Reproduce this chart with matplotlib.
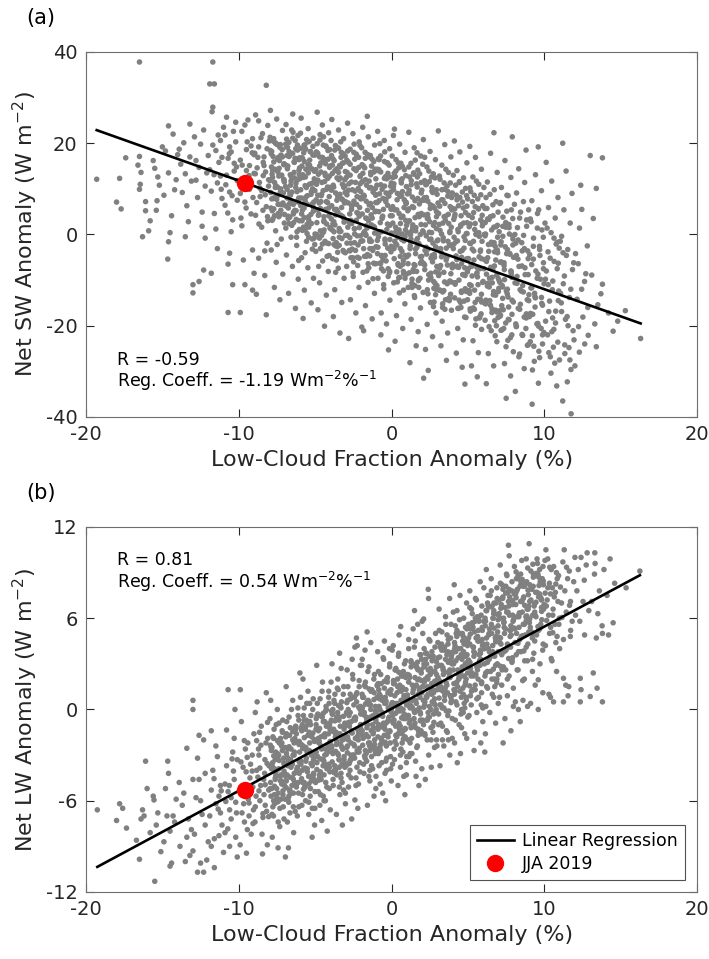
import matplotlib
matplotlib.use("Agg")
import matplotlib.pyplot as plt
import numpy as np

plt.rcParams['font.family'] = ['DejaVu Sans']
plt.rcParams['mathtext.fontset'] = 'dejavusans'
plt.rcParams['axes.unicode_minus'] = False

# (low-cloud fraction anomaly %, net SW anomaly W m-2)
sw_points = [
    (-19.3, 12.1), (-18.0, 7.1), (-17.7, 5.6), (-17.8, 12.3), (-17.4, 16.8),
    (-16.5, 37.8), (-16.5, 17.1), (-16.45, 11.0), (-16.5, 9.9), (-16.3, -0.5), (-16.1, 7.2), (-16.1, 5.2), (-16.6, 15.2), (-16.4, 13.6),
    (-15.5, 14.5), (-15.4, 5.3), (-15.35, 7.4), (-15.8, 3.0), (-15.2, 10.8), (-15.6, 16.2), (-15.0, 19.2), (-15.3, 12.6), (-15.9, 0.8),
    (-14.6, 23.8), (-14.3, 22.0), (-14.6, 13.5), (-14.0, 17.5), (-14.5, 0.4), (-14.6, -1.6), (-14.65, -5.4), (-14.2, 9.8), (-14.8, 18.3), (-14.4, 4.1), (-14.1, 12.0), (-14.9, 8.6),
    (-13.5, -0.5), (-13.0, -11.0), (-13.0, -12.8), (-13.8, 15.4), (-13.6, 20.1), (-13.2, 17.0), (-13.4, 6.3), (-13.1, 11.7), (-13.7, 9.2), (-13.3, 2.8), (-13.9, 18.7), (-13.5, 13.3), (-13.2, 24.2),
    (-12.6, -10.3), (-12.2, -0.8), (-12.3, -7.8), (-12.8, 16.2), (-12.5, 19.8), (-12.1, 13.5), (-12.7, 8.1), (-12.4, 4.9), (-12.9, 21.4), (-12.2, 10.6), (-12.6, 14.7), (-12.0, 17.3), (-12.4, 1.8), (-12.8, 11.9), (-12.3, 22.9),
    (-11.7, 37.8), (-11.9, 33.0), (-11.6, 33.0), (-11.7, 27.9), (-11.75, 26.9), (-11.8, -8.5), (-11.5, 18.4), (-11.2, 20.6), (-11.9, 14.2), (-11.4, 11.3), (-11.1, 7.9), (-11.6, 4.6), (-11.3, 15.8), (-11.8, 9.5), (-11.0, 23.5), (-11.5, 1.2), (-11.2, 12.8), (-11.7, 19.6), (-11.4, -3.1), (-11.1, 16.9),
    (-10.7, -17.1), (-10.6, -4.1), (-10.7, -6.5), (-10.4, -11.0), (-10.9, 21.8), (-10.5, 18.1), (-10.2, 24.6), (-10.8, 13.0), (-10.3, 15.6), (-10.6, 9.3), (-10.1, 11.8), (-10.9, 6.4), (-10.4, 3.2), (-10.7, 16.7), (-10.2, 20.3), (-10.5, 0.6), (-10.8, 25.7), (-10.1, 7.5), (-10.3, 13.9), (-10.6, 19.2),
    (-9.9, -17.1), (-9.6, -11.0), (-9.1, -12.2), (-9.0, -8.5), (-9.7, -5.6), (-9.1, -3.4), (-9.8, 22.6), (-9.4, 25.1), (-9.2, 19.4), (-9.9, 16.3), (-9.5, 14.0), (-9.3, 9.9), (-9.7, 12.2), (-9.0, 17.5), (-9.6, 7.1), (-9.2, 4.5), (-9.8, 1.9), (-9.4, 11.3), (-9.1, 21.0), (-9.5, 18.6), (-9.3, 15.1), (-9.9, 9.0), (-9.0, 13.4), (-9.6, 24.0),
    (-8.2, 32.7), (-8.2, -17.6), (-8.9, 26.2), (-8.45, 22.1), (-8.1, 23.9), (-8.7, 19.2), (-8.35, 17.0), (-8.8, 14.6), (-8.4, 12.9), (-8.05, 10.6), (-8.6, 8.3), (-8.2, 6.1), (-8.9, 4.2), (-8.5, 1.6), (-8.15, -1.9), (-8.7, -5.2), (-8.3, -9.0), (-8.85, -13.1), (-8.4, 15.8), (-8.0, 20.5), (-8.65, 11.4), (-8.25, 13.7), (-8.95, 17.8), (-8.5, 9.6), (-8.1, 3.0), (-8.7, 24.9), (-8.3, -3.6),
    (-7.93, 27.2), (-7.52, 25.3), (-7.14, 22.8), (-7.71, 21.0), (-7.28, 19.7), (-7.85, 18.2), (-7.41, 16.9), (-7.04, 15.5), (-7.63, 14.3), (-7.19, 13.0), (-7.96, 11.8), (-7.47, 10.4), (-7.08, 9.1), (-7.74, 7.9), (-7.33, 6.6), (-7.81, 5.2), (-7.38, 3.9), (-7.02, 2.5), (-7.59, 0.8), (-7.22, -1.0), (-7.88, -3.4), (-7.55, -6.1), (-7.12, -8.7), (-7.67, -11.6), (-7.31, -14.3), (-7.61, 20.1), (-7.24, 17.4), (-7.79, 12.5), (-7.43, 8.6), (-7.01, 4.4), (-7.49, -2.2),
    (-6.91, 24.1), (-6.47, 26.4), (-6.13, 21.7), (-6.72, 20.2), (-6.27, 18.8), (-6.84, 17.3), (-6.38, 15.9), (-6.02, 14.6), (-6.63, 13.1), (-6.18, 11.9), (-6.94, 10.5), (-6.52, 9.3), (-6.07, 8.0), (-6.69, 6.7), (-6.33, 5.3), (-6.77, 4.0), (-6.41, 2.6), (-6.04, 1.1), (-6.58, -0.6), (-6.21, -2.4), (-6.88, -4.5), (-6.49, -7.0), (-6.11, -9.8), (-6.74, -12.9), (-6.29, -16.2), (-6.81, 19.1), (-6.36, 12.4), (-6.03, 16.8), (-6.61, 7.4), (-6.24, 3.3), (-6.54, 22.9), (-6.08, -5.7),
    (-5.92, 25.5), (-5.46, 23.2), (-5.13, 21.1), (-5.68, 19.6), (-5.31, 18.1), (-5.83, 16.7), (-5.37, 15.2), (-5.04, 13.9), (-5.64, 12.6), (-5.22, 11.2), (-5.95, 9.8), (-5.51, 8.5), (-5.09, 7.1), (-5.73, 5.8), (-5.28, 4.4), (-5.86, 3.0), (-5.42, 1.6), (-5.01, 0.1), (-5.57, -1.5), (-5.19, -3.2), (-5.89, -5.1), (-5.48, -7.3), (-5.11, -9.6), (-5.71, -12.2), (-5.26, -15.0), (-5.79, -18.4), (-5.39, 20.4), (-5.02, 17.4), (-5.61, 14.3), (-5.17, 10.0), (-5.94, 6.3), (-5.53, 2.2), (-5.07, -0.8), (-5.66, -4.0),
    (-4.87, 26.8), (-4.53, 24.0), (-4.12, 22.3), (-4.69, 20.7), (-4.28, 19.2), (-4.83, 17.8), (-4.36, 16.4), (-4.03, 15.0), (-4.62, 13.7), (-4.17, 12.3), (-4.91, 11.0), (-4.48, 9.6), (-4.08, 8.3), (-4.74, 6.9), (-4.32, 5.5), (-4.79, 4.2), (-4.43, 2.8), (-4.01, 1.3), (-4.58, -0.2), (-4.23, -1.9), (-4.96, -3.7), (-4.51, -5.8), (-4.14, -8.1), (-4.71, -10.6), (-4.27, -13.3), (-4.82, -16.5), (-4.39, -20.1), (-4.05, 18.6), (-4.63, 15.7), (-4.19, 10.4), (-4.93, 7.6), (-4.46, 0.5), (-4.09, -4.6), (-4.68, 21.9), (-4.34, 12.9), (-4.77, -7.0),
    (-3.91, 25.2), (-3.47, 22.9), (-3.14, 21.0), (-3.68, 19.5), (-3.29, 18.0), (-3.84, 16.6), (-3.41, 15.1), (-3.03, 13.8), (-3.57, 12.4), (-3.22, 11.0), (-3.93, 9.7), (-3.52, 8.3), (-3.08, 6.9), (-3.73, 5.5), (-3.31, 4.2), (-3.78, 2.8), (-3.43, 1.3), (-3.02, -0.2), (-3.62, -1.8), (-3.17, -3.5), (-3.86, -5.3), (-3.49, -7.4), (-3.11, -9.6), (-3.72, -12.1), (-3.26, -14.9), (-3.81, -18.0), (-3.38, -21.6), (-3.04, 17.2), (-3.59, 14.4), (-3.21, 7.6), (-3.94, 3.4), (-3.54, -2.6), (-3.13, 10.3), (-3.66, -8.3), (-3.33, 20.3), (-3.77, 0.6),
    (-2.88, 24.4), (-2.53, 22.1), (-2.12, 20.3), (-2.71, 18.7), (-2.27, 17.2), (-2.82, 15.8), (-2.39, 14.3), (-2.04, 12.9), (-2.63, 11.5), (-2.18, 10.1), (-2.92, 8.7), (-2.47, 7.3), (-2.09, 5.9), (-2.74, 4.5), (-2.31, 3.1), (-2.86, 1.6), (-2.42, 0.1), (-2.01, -1.5), (-2.58, -3.2), (-2.23, -5.0), (-2.94, -7.0), (-2.51, -9.2), (-2.13, -11.6), (-2.69, -14.3), (-2.34, -17.2), (-1.95, -20.3), (-2.81, -22.8), (-2.41, 16.5), (-2.02, 9.4), (-2.61, 2.4), (-2.19, -2.3), (-2.91, 13.6), (-2.48, -6.0), (-2.07, 19.5), (-2.73, -0.7), (-2.29, 6.6),
    (-1.89, 23.5), (-1.52, 21.4), (-1.11, 19.6), (-1.73, 18.0), (-1.28, 16.5), (-1.84, 15.0), (-1.37, 13.6), (-1.03, 12.2), (-1.64, 10.8), (-1.21, 9.3), (-1.92, 7.9), (-1.47, 6.5), (-1.08, 5.0), (-1.69, 3.6), (-1.32, 2.1), (-1.78, 0.6), (-1.43, -1.0), (-1.02, -2.7), (-1.58, -4.4), (-1.17, -6.3), (-1.87, -8.3), (-1.54, -10.5), (-1.12, -12.9), (-1.71, -15.6), (-1.27, -18.5), (-1.83, -21.1), (-1.39, 17.3), (-1.04, 8.6), (-1.61, 1.4), (-1.23, -3.5), (-1.94, 11.5), (-1.49, -7.3), (-1.09, 14.3), (-1.67, -0.2), (-1.34, 4.3), (-1.59, 25.9),
    (-0.91, 22.6), (-0.48, 20.6), (-0.13, 18.8), (-0.72, 17.2), (-0.27, 15.7), (-0.83, 14.2), (-0.39, 12.7), (-0.02, 11.3), (-0.62, 9.9), (-0.18, 8.4), (-0.94, 7.0), (-0.53, 5.5), (-0.08, 4.1), (-0.74, 2.6), (-0.31, 1.1), (-0.86, -0.5), (-0.42, -2.1), (-0.04, -3.8), (-0.57, -5.6), (-0.22, -7.5), (-0.89, -9.6), (-0.51, -11.9), (-0.11, -14.4), (-0.68, -17.2), (-0.2, -25.3), (-0.7, -22.0), (-0.33, -19.6), (-0.81, 16.4), (-0.37, 7.7), (-0.01, 0.3), (-0.64, -4.6), (-0.24, 13.4), (-0.93, -1.3), (-0.46, 10.6), (-0.14, -8.4), (-0.77, 19.9),
    (0.12, 21.7), (0.53, 19.8), (0.88, 18.0), (0.29, 16.4), (0.71, 14.9), (0.17, 13.4), (0.62, 11.9), (0.97, 10.5), (0.38, 9.0), (0.83, 7.6), (0.07, 6.1), (0.49, 4.6), (0.92, 3.1), (0.26, 1.6), (0.68, 0.1), (0.21, -1.5), (0.58, -3.1), (0.99, -4.9), (0.43, -6.7), (0.79, -8.6), (0.14, -10.6), (0.51, -12.8), (0.87, -15.2), (0.32, -17.8), (0.73, -20.6), (0.23, -23.4), (0.61, 15.6), (0.96, 6.8), (0.41, -0.6), (0.77, -5.7), (0.09, 12.5), (0.47, -9.5), (0.91, 1.0), (0.34, -2.3), (0.66, 8.4), (0.19, 23.1),
    (1.13, 22.4), (1.48, 19.0), (1.91, 17.2), (1.27, 15.6), (1.72, 14.1), (1.18, 12.6), (1.63, 11.1), (1.98, 9.7), (1.36, 8.2), (1.82, 6.7), (1.06, 5.2), (1.54, 3.7), (1.93, 2.2), (1.31, 0.7), (1.69, -0.9), (1.22, -2.5), (1.57, -4.2), (1.97, -5.9), (1.42, -7.7), (1.86, -9.6), (1.09, -11.6), (1.51, -13.8), (1.89, -16.1), (1.28, -18.6), (1.74, -21.3), (1.2, -28.1), (1.61, -24.4), (1.44, 13.5), (1.79, -2.0), (1.14, 9.0), (1.53, -6.8), (1.94, 4.6), (1.33, -10.7), (1.67, 17.9), (1.24, -0.1), (1.59, 1.5),
    (2.1, -31.5), (2.4, -29.8), (2.08, 20.8), (2.52, 18.2), (2.87, 16.4), (2.31, 14.8), (2.73, 13.3), (2.16, 11.8), (2.64, 10.3), (2.98, 8.8), (2.37, 7.3), (2.82, 5.8), (2.11, 4.3), (2.49, 2.8), (2.93, 1.3), (2.27, -0.3), (2.71, -1.9), (2.19, -3.5), (2.58, -5.2), (2.96, -7.0), (2.43, -8.8), (2.84, -10.7), (2.06, -12.7), (2.54, -14.9), (2.91, -17.2), (2.33, -19.7), (2.68, -22.4), (2.22, -25.2), (2.61, 12.6), (2.79, -4.4), (2.39, 3.6), (2.89, -12.0), (2.28, 8.1), (2.74, -15.8), (2.47, 0.5), (2.17, 16.9),
    (3.06, 22.7), (3.48, 19.7), (3.88, 17.0), (3.29, 15.2), (3.72, 13.6), (3.17, 12.1), (3.63, 10.6), (3.97, 9.1), (3.36, 7.6), (3.83, 6.1), (3.08, 4.6), (3.52, 3.1), (3.91, 1.6), (3.27, 0.1), (3.69, -1.5), (3.21, -3.1), (3.57, -4.8), (3.99, -6.5), (3.42, -8.3), (3.81, -10.2), (3.12, -12.2), (3.53, -14.3), (3.92, -16.6), (3.31, -19.0), (3.67, -21.6), (3.23, -24.4), (3.59, -27.6), (3.44, 11.3), (3.78, -2.4), (3.14, -7.4), (3.49, 6.8), (3.86, -13.1), (3.34, -16.0),
    (4.11, 20.5), (4.47, 18.1), (4.93, 15.7), (4.28, 14.0), (4.71, 12.4), (4.19, 10.8), (4.63, 9.3), (4.98, 7.8), (4.38, 6.3), (4.84, 4.8), (4.07, 3.3), (4.52, 1.8), (4.89, 0.2), (4.31, -1.4), (4.74, -3.0), (4.22, -4.7), (4.58, -6.4), (4.96, -8.2), (4.41, -10.0), (4.82, -11.9), (4.13, -13.9), (4.54, -16.0), (4.87, -18.2), (4.33, -20.6), (4.69, -23.1), (4.8, -32.8), (4.24, -26.0), (4.62, -29.1), (4.44, 11.4), (4.79, -7.3), (4.09, -0.6), (4.51, -14.9), (4.91, 8.5), (4.27, -5.5),
    (5.12, 19.3), (5.49, 16.9), (5.88, 14.3), (5.32, 12.6), (5.71, 11.0), (5.18, 9.4), (5.64, 7.8), (5.97, 6.3), (5.37, 4.8), (5.83, 3.2), (5.08, 1.7), (5.53, 0.1), (5.92, -1.5), (5.28, -3.2), (5.73, -4.9), (5.21, -6.6), (5.59, -8.4), (5.99, -10.3), (5.43, -12.2), (5.81, -14.2), (5.14, -16.3), (5.52, -18.5), (5.89, -20.8), (5.33, -23.3), (5.68, -25.9), (5.23, -28.8), (5.61, -31.2), (5.41, 8.6), (5.78, -7.5), (5.11, -11.0), (5.47, 2.4), (5.86, -17.4),
    (6.7, 22.3), (6.2, -32.7), (6.48, 17.8), (6.91, 13.6), (6.27, 11.5), (6.72, 9.8), (6.18, 8.1), (6.63, 6.5), (6.97, 4.9), (6.38, 3.3), (6.84, 1.7), (6.07, 0.0), (6.53, -1.7), (6.92, -3.4), (6.29, -5.1), (6.73, -6.9), (6.21, -8.7), (6.59, -10.6), (6.99, -12.5), (6.43, -14.5), (6.81, -16.6), (6.12, -18.8), (6.52, -21.1), (6.89, -23.5), (6.33, -26.1), (6.68, -28.8), (6.41, -9.6), (6.78, -2.6), (6.11, 5.7), (6.47, -15.5), (6.86, -20.0),
    (7.9, 21.4), (7.5, -35.9), (7.42, 16.2), (7.81, 12.5), (7.19, 10.3), (7.63, 8.5), (7.08, 6.8), (7.54, 5.1), (7.93, 3.5), (7.28, 1.8), (7.71, 0.1), (7.17, -1.6), (7.58, -3.3), (7.98, -5.0), (7.36, -6.8), (7.83, -8.6), (7.09, -10.5), (7.51, -12.4), (7.88, -14.4), (7.31, -16.5), (7.69, -18.7), (7.22, -20.9), (7.61, -23.2), (7.97, -25.7), (7.39, -28.3), (7.79, -31.0), (7.27, -11.5), (7.73, -4.2), (7.13, -17.7), (7.47, 2.6), (7.87, -22.0),
    (8.8, 18.5), (8.1, -34.4), (8.32, 14.4), (8.71, 11.4), (8.18, 9.1), (8.63, 7.2), (8.97, 5.4), (8.38, 3.6), (8.84, 1.8), (8.07, 0.0), (8.52, -1.8), (8.91, -3.6), (8.27, -5.4), (8.73, -7.3), (8.21, -9.2), (8.58, -11.2), (8.99, -13.2), (8.43, -15.3), (8.82, -17.4), (8.13, -19.6), (8.54, -21.9), (8.89, -24.3), (8.33, -26.8), (8.68, -29.4), (8.41, -12.1), (8.79, -20.6), (8.17, -4.6),
    (9.6, 19.2), (9.2, -37.2), (9.42, 13.1), (9.81, 9.6), (9.18, 7.4), (9.63, 5.4), (9.08, 3.4), (9.54, 1.4), (9.93, -0.6), (9.28, -2.6), (9.71, -4.6), (9.17, -6.6), (9.58, -8.7), (9.98, -10.8), (9.36, -12.9), (9.83, -15.1), (9.09, -17.3), (9.51, -19.6), (9.88, -22.0), (9.31, -24.5), (9.69, -27.0), (9.22, -29.7), (9.61, -32.6), (9.41, -13.9), (9.79, -20.6),
    (10.12, 15.8), (10.48, 11.7), (10.89, 8.1), (10.27, 5.9), (10.71, 3.6), (10.18, 1.4), (10.63, -0.8), (10.97, -3.0), (10.38, -5.2), (10.84, -7.5), (10.07, -9.8), (10.52, -12.1), (10.91, -14.5), (10.29, -16.9), (10.73, -19.4), (10.21, -22.0), (10.59, -24.7), (10.99, -27.5), (10.43, -30.4), (10.81, -33.2), (10.54, -18.3),
    (11.2, 20.0), (11.2, -36.5), (11.75, -39.3), (11.5, -32.3), (11.42, 13.9), (11.81, 9.0), (11.28, 5.4), (11.69, 2.5), (11.13, -0.4), (11.53, -3.3), (11.92, -6.2), (11.31, -9.1), (11.73, -12.0), (11.11, -15.0), (11.49, -18.0), (11.88, -21.1), (11.33, -24.2), (11.67, -27.5),
    (12.45, 5.5), (12.3, 1.4), (12.0, -28.8), (12.38, 10.8), (12.81, -2.5), (12.22, -6.4), (12.63, -10.3), (12.14, -14.2), (12.52, -18.1), (12.87, -22.1), (12.29, -25.8), (12.71, -8.6),
    (13.0, 17.3), (13.8, 16.8), (13.4, 10.1), (13.2, 3.5), (13.8, -10.9), (13.1, -8.9), (13.4, -24.6), (13.5, -15.4), (13.3, -19.6), (13.7, -13.0),
    (14.5, -21.2), (14.2, -17.2), (15.3, -16.7), (16.3, -22.8), (14.8, -19.0),
]

# more points from the dense core of panel (a)
sw_core = [
    (-7.95, 21.3), (-7.57, 19.9), (-7.16, 18.6), (-7.76, 17.1), (-7.34, 16.2), (-7.86, 14.8), (-7.44, 13.7), (-7.06, 12.1), (-7.66, 11.4), (-7.26, 10.0), (-7.91, 9.2), (-7.52, 7.7), (-7.11, 6.5), (-7.71, 5.6), (-7.31, 4.3), (-7.82, 3.1),
    (-6.45, 22.4), (-6.87, 20.9), (-6.16, 19.6), (-6.71, 18.2), (-6.32, 16.7), (-6.96, 15.3), (-6.06, 14.1), (-6.56, 12.6), (-6.26, 11.2), (-6.83, 9.9), (-6.62, 8.6), (-6.12, 7.1), (-6.76, 5.8), (-6.43, 4.5), (-6.03, 3.0), (-6.92, 1.4), (-6.22, -0.6), (-6.6, 17.6),
    (-5.96, 22.2), (-5.56, 20.8), (-5.15, 19.3), (-5.75, 17.9), (-5.36, 16.3), (-5.87, 15.0), (-5.45, 13.5), (-5.06, 12.2), (-5.66, 10.7), (-5.25, 9.4), (-5.91, 8.0), (-5.52, 6.6), (-5.12, 5.1), (-5.72, 3.7), (-5.33, 2.4), (-5.84, 0.9), (-5.43, -0.6), (-5.03, -2.2), (-5.62, 18.7), (-5.22, 14.4),
    (-4.45, 21.4), (-4.87, 19.9), (-4.16, 18.4), (-4.71, 17.0), (-4.32, 15.5), (-4.96, 14.2), (-4.06, 12.8), (-4.56, 11.4), (-4.26, 9.9), (-4.83, 8.6), (-4.62, 7.2), (-4.12, 5.8), (-4.76, 4.4), (-4.43, 3.0), (-4.03, 1.5), (-4.92, 0.0), (-4.36, -1.5), (-4.66, -3.1), (-4.22, -4.8), (-4.52, 16.9),
    (-3.96, 20.6), (-3.56, 19.1), (-3.16, 17.7), (-3.76, 16.2), (-3.36, 14.8), (-3.87, 13.4), (-3.45, 12.0), (-3.06, 10.6), (-3.66, 9.1), (-3.26, 7.8), (-3.92, 6.3), (-3.51, 4.9), (-3.12, 3.5), (-3.71, 2.1), (-3.32, 0.7), (-3.83, -0.9), (-3.43, -2.4), (-3.03, -4.0), (-3.62, -5.6), (-3.22, 15.6),
    (-2.45, 19.8), (-2.87, 18.3), (-2.16, 16.9), (-2.71, 15.4), (-2.32, 14.0), (-2.96, 12.5), (-2.06, 11.1), (-2.56, 9.8), (-2.26, 8.3), (-2.83, 6.9), (-2.62, 5.5), (-2.12, 4.0), (-2.76, 2.6), (-2.43, 1.2), (-2.03, -0.3), (-2.92, -1.9), (-2.36, -3.5), (-2.66, -5.1), (-2.22, -6.8), (-2.52, -8.4),
    (-1.96, 19.0), (-1.56, 17.5), (-1.16, 16.0), (-1.76, 14.6), (-1.36, 13.1), (-1.87, 11.7), (-1.45, 10.2), (-1.06, 8.8), (-1.66, 7.3), (-1.26, 5.9), (-1.92, 4.5), (-1.51, 3.0), (-1.12, 1.6), (-1.71, 0.1), (-1.32, -1.5), (-1.83, -3.1), (-1.43, -4.7), (-1.03, -6.4), (-1.62, -8.0), (-1.22, -9.7),
    (-0.45, 18.1), (-0.87, 16.6), (-0.16, 15.2), (-0.71, 13.7), (-0.32, 12.2), (-0.96, 10.8), (-0.06, 9.3), (-0.56, 7.9), (-0.26, 6.4), (-0.83, 5.0), (-0.62, 3.5), (-0.12, 2.0), (-0.76, 0.6), (-0.43, -1.0), (-0.03, -2.6), (-0.92, -4.2), (-0.36, -5.8), (-0.66, -7.5), (-0.22, -9.2), (-0.52, -11.0),
    (0.04, 17.2), (0.44, 15.7), (0.84, 14.2), (0.24, 12.7), (0.64, 11.3), (0.13, 9.8), (0.55, 8.4), (0.94, 6.9), (0.34, 5.4), (0.74, 4.0), (0.08, 2.5), (0.49, 1.0), (0.88, -0.5), (0.29, -2.1), (0.68, -3.7), (0.17, -5.3), (0.57, -7.0), (0.97, -8.7), (0.38, -10.4), (0.78, -12.2),
    (1.55, 16.3), (1.13, 14.8), (1.84, 13.3), (1.29, 11.8), (1.68, 10.4), (1.04, 8.9), (1.94, 7.4), (1.44, 5.9), (1.74, 4.4), (1.17, 3.0), (1.38, 1.5), (1.88, 0.0), (1.24, -1.6), (1.57, -3.2), (1.97, -4.8), (1.08, -6.4), (1.64, -8.1), (1.34, -9.8), (1.78, -11.6), (1.49, -13.4),
    (2.04, 15.4), (2.44, 13.9), (2.84, 12.4), (2.24, 10.9), (2.64, 9.5), (2.13, 8.0), (2.55, 6.5), (2.94, 5.0), (2.34, 3.5), (2.74, 2.0), (2.08, 0.5), (2.49, -1.1), (2.88, -2.7), (2.29, -4.3), (2.68, -6.0), (2.17, -7.7), (2.57, -9.4), (2.97, -11.2), (2.38, -13.0), (2.78, -14.8),
    (3.55, 14.3), (3.13, 12.8), (3.84, 11.3), (3.29, 9.8), (3.68, 8.4), (3.04, 6.9), (3.94, 5.4), (3.44, 3.9), (3.74, 2.4), (3.17, 0.9), (3.38, -0.7), (3.88, -2.3), (3.24, -3.9), (3.57, -5.6), (3.97, -7.3), (3.08, -9.0), (3.64, -10.8), (3.34, -12.6), (3.78, -14.5), (3.49, -16.4),
    (4.04, 13.0), (4.44, 11.6), (4.84, 10.1), (4.24, 8.6), (4.64, 7.1), (4.13, 5.6), (4.55, 4.1), (4.94, 2.6), (4.34, 1.1), (4.74, -0.5), (4.08, -2.1), (4.49, -3.7), (4.88, -5.4), (4.29, -7.1), (4.68, -8.8), (4.17, -10.6), (4.57, -12.4), (4.97, -14.3), (4.38, -16.2), (4.78, -18.1),
    (5.55, 11.7), (5.13, 10.2), (5.84, 8.7), (5.29, 7.2), (5.68, 5.7), (5.04, 4.2), (5.94, 2.7), (5.44, 1.1), (5.74, -0.4), (5.17, -2.0), (5.38, -3.6), (5.88, -5.3), (5.24, -7.0), (5.57, -8.7), (5.97, -10.5), (5.08, -12.3), (5.64, -14.2), (5.34, -16.1), (5.78, -18.0), (5.49, -19.9),
    (6.04, 10.3), (6.44, 8.8), (6.84, 7.2), (6.24, 5.7), (6.64, 4.1), (6.13, 2.6), (6.55, 1.0), (6.94, -0.6), (6.34, -2.2), (6.74, -3.8), (6.08, -5.5), (6.49, -7.2), (6.88, -8.9), (6.29, -10.7), (6.68, -12.5), (6.17, -14.4), (6.57, -16.3), (6.97, -18.2), (6.38, -20.2), (6.78, -22.2),
    (7.55, 8.6), (7.13, 7.0), (7.84, 5.4), (7.29, 3.8), (7.68, 2.2), (7.04, 0.6), (7.94, -1.0), (7.44, -2.7), (7.74, -4.3), (7.17, -6.0), (7.38, -7.7), (7.88, -9.4), (7.24, -11.2), (7.57, -13.0), (7.97, -14.8), (7.08, -16.7), (7.64, -18.6), (7.34, -20.6), (7.78, -22.6), (7.49, -24.6),
    (8.04, 6.6), (8.44, 4.9), (8.84, 3.2), (8.24, 1.5), (8.64, -0.2), (8.13, -1.9), (8.55, -3.6), (8.94, -5.3), (8.34, -7.0), (8.74, -8.8), (8.08, -10.6), (8.49, -12.4), (8.88, -14.3), (8.29, -16.2), (8.68, -18.1), (8.17, -20.1), (8.57, -22.1), (8.97, -24.1), (8.38, -26.2),
    (9.55, 4.6), (9.13, 2.8), (9.84, 1.0), (9.29, -0.8), (9.68, -2.6), (9.04, -4.4), (9.94, -6.2), (9.44, -8.0), (9.74, -9.8), (9.17, -11.7), (9.38, -13.6), (9.88, -15.5), (9.24, -17.5), (9.57, -19.5), (9.97, -21.5), (9.08, -23.5), (9.64, -25.6), (9.34, -27.8),
    (10.04, 2.5), (10.44, 0.4), (10.84, -1.7), (10.24, -3.8), (10.64, -5.9), (10.13, -8.0), (10.55, -10.2), (10.94, -12.4), (10.34, -14.6), (10.74, -16.8), (10.08, -19.0), (10.49, -21.3), (10.88, -23.6), (10.29, -25.9), (10.68, -28.2),
    (11.04, -1.5), (11.44, -4.6), (11.84, -7.7), (11.24, -10.8), (11.64, -13.8), (11.13, -16.9), (11.55, -20.0), (11.94, -23.1), (11.34, -26.1), (11.74, -29.6),
    (12.04, -4.2), (12.44, -12.0), (12.84, -16.0), (12.24, -20.2), (12.64, -24.0),
]

# the most crowded part of panel (a)
sw_dense = [
    (-7.72, 20.4), (-7.31, 19.1), (-7.88, 17.7), (-7.47, 16.5), (-7.06, 15.3), (-7.79, 14.0), (-7.38, 12.8), (-7.02, 11.5), (-7.61, 10.3), (-7.19, 9.0), (-7.84, 7.8), (-7.43, 6.6), (-7.25, 5.3), (-7.66, 4.1),
    (-6.31, 20.6), (-6.88, 19.2), (-6.47, 17.8), (-6.06, 16.4), (-6.79, 15.0), (-6.38, 13.6), (-6.02, 12.2), (-6.61, 10.8), (-6.19, 9.4), (-6.84, 8.0), (-6.43, 6.6), (-6.25, 5.2), (-6.66, 3.8), (-6.72, 2.4),
    (-5.72, 19.6), (-5.31, 18.2), (-5.88, 16.8), (-5.47, 15.3), (-5.06, 13.9), (-5.79, 12.5), (-5.38, 11.0), (-5.02, 9.6), (-5.61, 8.2), (-5.19, 6.7), (-5.84, 5.3), (-5.43, 3.9), (-5.25, 2.4), (-5.66, 1.0),
    (-4.31, 19.4), (-4.88, 17.8), (-4.47, 16.3), (-4.06, 14.7), (-4.79, 13.2), (-4.38, 11.6), (-4.02, 10.1), (-4.61, 8.5), (-4.19, 7.0), (-4.84, 5.4), (-4.43, 3.9), (-4.25, 2.3), (-4.66, 0.8), (-4.72, -0.8), (-4.12, -2.0),
    (-3.72, 18.5), (-3.31, 16.9), (-3.88, 15.2), (-3.47, 13.6), (-3.06, 12.0), (-3.79, 10.4), (-3.38, 8.8), (-3.02, 7.2), (-3.61, 5.5), (-3.19, 3.9), (-3.84, 2.3), (-3.43, 0.7), (-3.25, -0.9), (-3.66, -2.5), (-3.12, -3.8),
    (-2.31, 17.6), (-2.88, 16.0), (-2.47, 14.4), (-2.06, 12.7), (-2.79, 11.1), (-2.38, 9.5), (-2.02, 7.8), (-2.61, 6.2), (-2.19, 4.6), (-2.84, 3.0), (-2.43, 1.3), (-2.25, -0.3), (-2.66, -1.9), (-2.72, -3.6), (-2.12, -5.2),
    (-1.72, 16.7), (-1.31, 15.0), (-1.88, 13.4), (-1.47, 11.7), (-1.06, 10.1), (-1.79, 8.4), (-1.38, 6.8), (-1.02, 5.1), (-1.61, 3.5), (-1.19, 1.8), (-1.84, 0.2), (-1.43, -1.5), (-1.25, -3.1), (-1.66, -4.8), (-1.12, -6.4),
    (-0.31, 15.7), (-0.88, 14.0), (-0.47, 12.3), (-0.06, 10.6), (-0.79, 8.9), (-0.38, 7.2), (-0.02, 5.5), (-0.61, 3.8), (-0.19, 2.1), (-0.84, 0.4), (-0.43, -1.3), (-0.25, -3.0), (-0.66, -4.7), (-0.72, -6.4), (-0.12, -8.1),
    (0.28, 13.9), (0.69, 12.2), (0.12, 10.5), (0.53, 8.8), (0.94, 7.1), (0.21, 5.4), (0.62, 3.7), (0.98, 2.0), (0.39, 0.3), (0.81, -1.4), (0.16, -3.1), (0.57, -4.8), (0.75, -6.5), (0.34, -8.2), (0.88, -9.6),
    (1.69, 12.6), (1.28, 10.9), (1.94, 9.1), (1.53, 7.4), (1.12, 5.6), (1.81, 3.9), (1.39, 2.1), (1.02, 0.4), (1.62, -1.4), (1.21, -3.1), (1.88, -4.9), (1.47, -6.6), (1.16, -8.4), (1.75, -10.1), (1.34, -11.6),
    (2.28, 11.0), (2.69, 9.2), (2.12, 7.5), (2.53, 5.7), (2.94, 3.9), (2.21, 2.1), (2.62, 0.4), (2.98, -1.4), (2.39, -3.2), (2.81, -5.0), (2.16, -6.7), (2.57, -8.5), (2.75, -10.3), (2.34, -12.1), (2.88, -13.2),
    (3.69, 9.4), (3.28, 7.6), (3.94, 5.8), (3.53, 4.0), (3.12, 2.2), (3.81, 0.4), (3.39, -1.4), (3.02, -3.2), (3.62, -5.0), (3.21, -6.8), (3.88, -8.6), (3.47, -10.4), (3.16, -12.2), (3.75, -14.0), (3.34, -15.2),
    (4.28, 7.6), (4.69, 5.8), (4.12, 3.9), (4.53, 2.1), (4.94, 0.2), (4.21, -1.6), (4.62, -3.5), (4.98, -5.3), (4.39, -7.2), (4.81, -9.0), (4.16, -10.9), (4.57, -12.7), (4.75, -14.6), (4.34, -16.2),
    (5.69, 5.6), (5.28, 3.7), (5.94, 1.9), (5.53, 0.0), (5.12, -1.9), (5.81, -3.7), (5.39, -5.6), (5.02, -7.5), (5.62, -9.3), (5.21, -11.2), (5.88, -13.1), (5.47, -14.9), (5.16, -16.8), (5.75, -18.3),
    (6.28, 3.4), (6.69, 1.6), (6.12, -0.3), (6.53, -2.1), (6.94, -4.0), (6.21, -5.9), (6.62, -7.7), (6.98, -9.6), (6.39, -11.5), (6.81, -13.3), (6.16, -15.2), (6.57, -17.1), (6.75, -18.9),
    (7.69, 1.5), (7.28, -0.4), (7.94, -2.3), (7.53, -4.2), (7.12, -6.1), (7.81, -8.0), (7.39, -9.9), (7.02, -11.8), (7.62, -13.7), (7.21, -15.6), (7.88, -17.5), (7.47, -19.4), (7.16, -21.0),
    (8.28, -1.2), (8.69, -3.1), (8.12, -5.0), (8.53, -6.9), (8.94, -8.8), (8.21, -10.7), (8.62, -12.6), (8.98, -14.5), (8.39, -16.4), (8.81, -18.3), (8.16, -20.2), (8.57, -22.1),
    (9.69, -3.3), (9.28, -5.4), (9.94, -7.5), (9.53, -9.6), (9.12, -11.7), (9.81, -13.8), (9.39, -15.9), (9.02, -18.0), (9.62, -20.1), (9.21, -22.2), (9.88, -24.0),
]

# second pass over the most crowded part of panel (a)
sw_dense2 = [
    (-7.47, 19.7), (-7.93, 18.4), (-7.15, 17.0), (-7.71, 15.9), (-7.36, 14.5), (-7.82, 13.2), (-7.04, 11.9), (-7.58, 10.7), (-7.27, 9.5), (-7.66, 8.1), (-7.11, 6.9), (-7.89, 5.8), (-7.42, 4.6), (-7.77, 3.4),
    (-6.47, 21.1), (-6.93, 19.8), (-6.15, 18.5), (-6.71, 17.1), (-6.36, 15.8), (-6.82, 14.4), (-6.04, 13.1), (-6.58, 11.7), (-6.27, 10.3), (-6.66, 9.0), (-6.11, 7.6), (-6.89, 6.2), (-6.42, 4.9), (-6.77, 3.5), (-6.53, 2.0), (-6.19, 0.6),
    (-5.47, 20.3), (-5.93, 18.9), (-5.15, 17.4), (-5.71, 16.0), (-5.36, 14.6), (-5.82, 13.1), (-5.04, 11.7), (-5.58, 10.3), (-5.27, 8.8), (-5.66, 7.4), (-5.11, 5.9), (-5.89, 4.5), (-5.42, 3.1), (-5.77, 1.6), (-5.53, 0.2), (-5.19, -1.0),
    (-4.47, 19.6), (-4.93, 18.1), (-4.15, 16.5), (-4.71, 15.0), (-4.36, 13.4), (-4.82, 11.9), (-4.04, 10.3), (-4.58, 8.8), (-4.27, 7.2), (-4.66, 5.7), (-4.11, 4.1), (-4.89, 2.6), (-4.42, 1.0), (-4.77, -0.5), (-4.53, -2.1),
    (-3.47, 18.9), (-3.93, 17.3), (-3.15, 15.7), (-3.71, 14.0), (-3.36, 12.4), (-3.82, 10.8), (-3.04, 9.2), (-3.58, 7.5), (-3.27, 5.9), (-3.66, 4.3), (-3.11, 2.7), (-3.89, 1.0), (-3.42, -0.6), (-3.77, -2.2), (-3.53, -3.9),
    (-2.47, 18.0), (-2.93, 16.3), (-2.15, 14.7), (-2.71, 13.0), (-2.36, 11.4), (-2.82, 9.7), (-2.04, 8.1), (-2.58, 6.4), (-2.27, 4.8), (-2.66, 3.1), (-2.11, 1.5), (-2.89, -0.2), (-2.42, -1.8), (-2.77, -3.5), (-2.53, -5.1),
    (-1.47, 17.0), (-1.93, 15.3), (-1.15, 13.7), (-1.71, 12.0), (-1.36, 10.3), (-1.82, 8.6), (-1.04, 7.0), (-1.58, 5.3), (-1.27, 3.6), (-1.66, 1.9), (-1.11, 0.3), (-1.89, -1.4), (-1.42, -3.1), (-1.77, -4.8), (-1.53, -6.4),
    (-0.47, 16.0), (-0.93, 14.3), (-0.15, 12.6), (-0.71, 10.9), (-0.36, 9.1), (-0.82, 7.4), (-0.04, 5.7), (-0.58, 4.0), (-0.27, 2.3), (-0.66, 0.6), (-0.11, -1.1), (-0.89, -2.8), (-0.42, -4.6), (-0.77, -6.3), (-0.53, -8.0),
    (0.47, 14.6), (0.93, 12.9), (0.15, 11.1), (0.71, 9.4), (0.36, 7.6), (0.82, 5.9), (0.04, 4.1), (0.58, 2.4), (0.27, 0.6), (0.66, -1.1), (0.11, -2.9), (0.89, -4.6), (0.42, -6.4), (0.77, -8.1), (0.53, -9.4),
    (1.47, 13.2), (1.93, 11.4), (1.15, 9.7), (1.71, 7.9), (1.36, 6.1), (1.82, 4.3), (1.04, 2.6), (1.58, 0.8), (1.27, -1.0), (1.66, -2.8), (1.11, -4.5), (1.89, -6.3), (1.42, -8.1), (1.77, -9.9), (1.53, -11.2),
    (2.47, 11.6), (2.93, 9.8), (2.15, 8.0), (2.71, 6.2), (2.36, 4.4), (2.82, 2.6), (2.04, 0.8), (2.58, -1.0), (2.27, -2.8), (2.66, -4.6), (2.11, -6.4), (2.89, -8.2), (2.42, -10.0), (2.77, -11.8),
    (3.47, 9.9), (3.93, 8.1), (3.15, 6.2), (3.71, 4.4), (3.36, 2.5), (3.82, 0.7), (3.04, -1.2), (3.58, -3.0), (3.27, -4.9), (3.66, -6.7), (3.11, -8.6), (3.89, -10.4), (3.42, -12.3), (3.77, -14.0),
    (4.47, 8.1), (4.93, 6.2), (4.15, 4.4), (4.71, 2.5), (4.36, 0.6), (4.82, -1.3), (4.04, -3.1), (4.58, -5.0), (4.27, -6.9), (4.66, -8.8), (4.11, -10.6), (4.89, -12.5), (4.42, -14.4),
    (5.47, 6.1), (5.93, 4.2), (5.15, 2.3), (5.71, 0.4), (5.36, -1.5), (5.82, -3.4), (5.04, -5.3), (5.58, -7.2), (5.27, -9.1), (5.66, -11.0), (5.11, -12.9), (5.89, -14.8), (5.42, -16.4),
    (6.47, 3.9), (6.93, 2.0), (6.15, 0.1), (6.71, -1.8), (6.36, -3.7), (6.82, -5.6), (6.04, -7.5), (6.58, -9.4), (6.27, -11.3), (6.66, -13.2), (6.11, -15.1), (6.89, -17.0),
    (7.47, 1.6), (7.93, -0.3), (7.15, -2.3), (7.71, -4.2), (7.36, -6.2), (7.82, -8.1), (7.04, -10.1), (7.58, -12.0), (7.27, -14.0), (7.66, -15.9), (7.11, -17.9),
]

# fringe of the cloud in panel (a): left shoulder and lower right
sw_edge = [
    (-8.55, 21.2), (-8.15, 18.8), (-8.75, 16.9), (-8.35, 15.1), (-8.92, 13.3), (-8.05, 12.0), (-8.62, 10.2), (-8.27, 8.7), (-8.83, 7.0), (-8.42, 5.3), (-8.12, 3.9), (-8.68, 2.3),
    (-9.45, 20.3), (-9.12, 17.9), (-9.78, 15.2), (-9.33, 12.9), (-9.64, 10.6), (-9.07, 8.1), (-9.52, 5.8), (-9.86, 3.6),
    (-10.35, 22.6), (-10.62, 17.7), (-10.15, 14.8), (-10.85, 10.9), (-10.44, 8.5), (-10.72, 4.7),
    (-11.35, 21.8), (-11.62, 13.1), (-11.15, 9.9),
    (10.62, -20.8), (10.25, -11.0), (10.91, -6.3), (11.38, -18.6), (11.06, -12.9), (11.61, -24.8), (10.39, -26.8), (10.77, -2.1), (11.22, -4.0),
]

# (low-cloud fraction anomaly %, net LW anomaly W m-2)
lw_points = [
    (-19.26, -6.6), (-18.0, -7.3), (-17.35, -7.8), (-17.8, -6.2), (-17.6, -6.5),
    (-16.1, -3.4), (-16.0, -5.2), (-16.3, -6.6), (-16.2, -7.0), (-16.4, -7.2), (-16.5, -9.85), (-16.7, -8.6),
    (-15.5, -11.3), (-15.6, -5.7), (-15.55, -5.95), (-15.4, -7.6), (-15.1, -9.35), (-15.8, -8.1), (-15.3, -6.8),
    (-14.8, -5.2), (-14.65, -3.4), (-14.6, -4.2), (-14.4, -10.1), (-14.5, -10.3), (-14.7, -7.0), (-14.3, -7.0), (-14.2, -7.4), (-14.9, -8.7), (-14.1, -5.9), (-14.5, -8.0),
    (-13.85, -9.0), (-13.5, -10.0), (-13.2, -9.6), (-13.4, -8.4), (-13.0, -9.3), (-13.0, -4.6), (-13.4, -2.55), (-13.0, 0.0), (-13.0, 0.6), (-13.7, -6.3), (-13.3, -7.2), (-13.6, -5.5), (-13.1, -7.9), (-13.9, -4.8),
    (-12.7, -3.2), (-12.6, -1.7), (-12.3, -2.0), (-12.7, -10.7), (-12.3, -10.7), (-12.5, -10.1), (-12.1, -9.9), (-12.9, -8.2), (-12.4, -6.9), (-12.8, -5.8), (-12.2, -7.6), (-12.6, -4.6), (-12.0, -8.7), (-12.5, -6.0), (-12.2, -4.2),
    (-11.8, -1.4), (-11.8, -9.0), (-11.6, -10.4), (-11.3, -8.3), (-11.9, -7.0), (-11.5, -6.2), (-11.2, -5.0), (-11.7, -4.0), (-11.4, -3.1), (-11.1, -7.6), (-11.6, -8.5), (-11.3, -5.7), (-11.0, -9.4), (-11.5, -2.4), (-11.2, -6.8), (-11.8, -5.3),
    (-10.8, -1.35), (-10.7, 1.3), (-10.25, 0.0), (-10.1, -9.7), (-10.9, -8.1), (-10.5, -7.2), (-10.2, -6.1), (-10.7, -5.4), (-10.3, -4.6), (-10.8, -3.7), (-10.4, -2.8), (-10.1, -3.3), (-10.6, -6.6), (-10.2, -8.4), (-10.9, -4.9), (-10.5, -5.8), (-10.3, -1.9), (-10.6, -9.0),
    (-9.9, 1.3), (-9.5, -9.45), (-9.83, -0.8), (-9.41, -2.2), (-9.12, -3.0), (-9.72, -3.8), (-9.27, -4.5), (-9.86, -5.2), (-9.38, -5.9), (-9.04, -6.6), (-9.63, -7.4), (-9.19, -8.2), (-9.91, -8.9), (-9.52, -4.1), (-9.08, -5.1), (-9.68, -6.2), (-9.33, -7.0), (-9.01, -1.6), (-9.57, -2.6), (-9.23, -3.6), (-9.79, -6.8), (-9.44, -7.9),
    (-8.2, 1.1), (-8.8, 0.5), (-8.45, -9.5), (-8.92, -0.2), (-8.53, -1.1), (-8.11, -1.9), (-8.71, -2.6), (-8.29, -3.3), (-8.83, -4.0), (-8.37, -4.6), (-8.04, -5.3), (-8.62, -6.0), (-8.18, -6.7), (-8.94, -7.4), (-8.48, -8.2), (-8.13, -8.9), (-8.68, -3.0), (-8.31, -4.2), (-8.57, -5.0), (-8.22, -2.2), (-8.87, -5.7), (-8.42, -7.1), (-8.02, -3.7), (-8.64, -1.5), (-8.27, -6.3),
    (-7.91, 0.6), (-7.48, 0.0), (-7.12, -0.7), (-7.69, -1.3), (-7.27, -1.9), (-7.83, -2.5), (-7.39, -3.0), (-7.03, -3.6), (-7.58, -4.1), (-7.21, -4.7), (-7.94, -5.2), (-7.51, -5.8), (-7.09, -6.4), (-7.73, -7.0), (-7.32, -7.7), (-7.81, -8.4), (-7.43, -9.1), (-7.18, -2.2), (-7.62, -3.3), (-7.01, -5.0), (-7.53, -6.1), (-7.86, -3.9), (-7.29, -4.4), (-7.14, -1.5), (-7.67, -5.6), (-7.37, -0.9), (-7.04, -7.2), (-7.59, -2.8),
    (-6.9, 1.5), (-6.0, 2.4), (-6.75, -9.1), (-6.95, -9.7), (-6.47, 0.6), (-6.13, 0.1), (-6.71, -0.5), (-6.28, -1.1), (-6.84, -1.7), (-6.38, -2.2), (-6.02, -2.8), (-6.61, -3.3), (-6.19, -3.9), (-6.93, -4.4), (-6.52, -5.0), (-6.09, -5.5), (-6.73, -6.1), (-6.31, -6.7), (-6.82, -7.4), (-6.41, -8.1), (-6.23, -1.6), (-6.58, -2.6), (-6.04, -4.2), (-6.49, -3.6), (-6.88, -2.9), (-6.34, -4.8), (-6.07, -0.7), (-6.66, -5.4), (-6.43, -6.4), (-6.63, -1.2), (-6.17, -7.0),
    (-5.8, 2.0), (-5.2, -8.4), (-5.47, 1.2), (-5.13, 0.7), (-5.72, 0.1), (-5.28, -0.4), (-5.84, -1.0), (-5.39, -1.5), (-5.02, -2.0), (-5.61, -2.5), (-5.17, -3.0), (-5.93, -3.6), (-5.51, -4.1), (-5.08, -4.6), (-5.69, -5.1), (-5.33, -5.7), (-5.87, -6.3), (-5.42, -6.9), (-5.04, -7.6), (-5.58, -0.7), (-5.22, -1.8), (-5.91, -2.3), (-5.53, -2.8), (-5.11, -3.3), (-5.74, -3.9), (-5.27, -4.4), (-5.01, -5.4), (-5.63, -6.0), (-5.36, 0.4), (-5.82, -4.8), (-5.19, -6.5), (-5.64, -1.3),
    (-4.9, 2.9), (-4.52, 1.8), (-4.11, 1.2), (-4.68, 0.7), (-4.29, 0.2), (-4.83, -0.3), (-4.37, -0.8), (-4.03, -1.3), (-4.62, -1.8), (-4.18, -2.3), (-4.93, -2.8), (-4.48, -3.3), (-4.07, -3.8), (-4.72, -4.3), (-4.31, -4.8), (-4.79, -5.4), (-4.42, -6.0), (-4.01, -6.6), (-4.57, -7.3), (-4.21, -8.0), (-4.54, -0.5), (-4.13, -1.6), (-4.74, -2.1), (-4.33, -2.6), (-4.86, -3.1), (-4.39, -3.6), (-4.04, -4.1), (-4.61, -4.6), (-4.24, -5.1), (-4.94, -1.0), (-4.47, -5.7), (-4.09, 0.4), (-4.69, -6.3), (-4.27, -1.1),
    (-3.4, 3.7), (-3.9, 3.0), (-3.3, 2.7), (-3.52, 2.0), (-3.13, 1.5), (-3.71, 1.0), (-3.28, 0.5), (-3.84, 0.0), (-3.42, -0.5), (-3.03, -1.0), (-3.63, -1.5), (-3.19, -2.0), (-3.92, -2.5), (-3.48, -3.0), (-3.09, -3.5), (-3.73, -4.0), (-3.31, -4.5), (-3.82, -5.0), (-3.38, -5.6), (-3.02, -6.2), (-3.61, -6.9), (-3.22, -7.6), (-3.53, -0.2), (-3.11, -1.3), (-3.68, -1.8), (-3.34, -2.3), (-3.87, -2.8), (-3.44, -3.3), (-3.06, -3.8), (-3.59, -4.3), (-3.24, -4.8), (-3.94, -0.7), (-3.49, 1.3), (-3.14, -5.3),
    (-2.4, 4.1), (-2.3, 4.7), (-2.25, 4.2), (-2.4, -5.95), (-2.91, 2.6), (-2.53, 2.0), (-2.12, 1.5), (-2.71, 1.0), (-2.29, 0.5), (-2.84, 0.0), (-2.38, -0.5), (-2.03, -1.0), (-2.63, -1.5), (-2.18, -2.0), (-2.93, -2.5), (-2.51, -3.0), (-2.09, -3.5), (-2.72, -4.0), (-2.33, -4.5), (-2.82, -5.1), (-2.21, -6.5), (-2.61, -7.2), (-2.02, -0.3), (-2.64, -0.8), (-2.23, -1.3), (-2.88, -1.8), (-2.47, -2.3), (-2.13, -2.8), (-2.69, -3.3), (-2.27, -3.8), (-2.81, -4.3), (-2.43, 0.8), (-2.04, 2.9), (-2.58, 3.3), (-2.17, -4.9),
    (-1.6, 5.1), (-1.15, -5.7), (-1.92, 3.3), (-1.48, 2.8), (-1.12, 2.3), (-1.71, 1.8), (-1.29, 1.3), (-1.83, 0.8), (-1.38, 0.3), (-1.02, -0.2), (-1.62, -0.7), (-1.19, -1.2), (-1.94, -1.7), (-1.51, -2.2), (-1.08, -2.7), (-1.73, -3.2), (-1.31, -3.7), (-1.81, -4.2), (-1.42, -4.7), (-1.03, -5.2), (-1.58, -6.3), (-1.21, -0.4), (-1.68, -0.9), (-1.33, -1.4), (-1.86, -1.9), (-1.44, -2.4), (-1.06, -2.9), (-1.63, -3.4), (-1.24, -3.9), (-1.91, 0.1), (-1.53, 0.6), (-1.14, 1.1), (-1.74, 3.9), (-1.36, 4.4), (-1.49, -4.4),
    (-0.75, -4.9), (-0.91, 3.8), (-0.52, 3.3), (-0.13, 2.8), (-0.71, 2.3), (-0.28, 1.8), (-0.84, 1.3), (-0.41, 0.8), (-0.03, 0.3), (-0.62, -0.2), (-0.19, -0.7), (-0.93, -1.2), (-0.48, -1.7), (-0.09, -2.2), (-0.73, -2.7), (-0.32, -3.2), (-0.82, -3.7), (-0.43, -4.2), (-0.02, -4.7), (-0.58, -5.5), (-0.22, 0.1), (-0.88, -0.4), (-0.53, -0.9), (-0.12, -1.4), (-0.67, -1.9), (-0.34, -2.4), (-0.86, -2.9), (-0.38, -3.4), (-0.06, -3.9), (-0.61, 0.6), (-0.24, 1.1), (-0.94, 1.6), (-0.47, 4.5), (-0.14, 4.0), (-0.39, -6.0),
    (0.6, 5.45), (0.8, -4.4), (0.11, 4.2), (0.47, 3.7), (0.92, 3.2), (0.28, 2.7), (0.71, 2.2), (0.17, 1.7), (0.63, 1.2), (0.98, 0.7), (0.36, 0.2), (0.83, -0.3), (0.08, -0.8), (0.52, -1.3), (0.89, -1.8), (0.31, -2.3), (0.74, -2.8), (0.19, -3.3), (0.58, -3.8), (0.97, -4.3), (0.42, -5.0), (0.81, 0.9), (0.13, 0.4), (0.54, -0.1), (0.93, -0.6), (0.27, -1.1), (0.68, -1.6), (0.22, -2.1), (0.61, -2.6), (0.99, -3.1), (0.39, 2.0), (0.77, 2.5), (0.06, -3.6), (0.49, 4.9), (0.87, -5.6),
    (1.5, 6.5), (1.6, -4.4), (1.12, 4.6), (1.49, 4.1), (1.91, 3.6), (1.28, 3.1), (1.73, 2.6), (1.18, 2.1), (1.62, 1.6), (1.97, 1.1), (1.37, 0.6), (1.82, 0.1), (1.07, -0.4), (1.53, -0.9), (1.93, -1.4), (1.31, -1.9), (1.69, -2.4), (1.22, -2.9), (1.57, -3.4), (1.98, -3.9), (1.42, 1.3), (1.86, 0.8), (1.09, 0.3), (1.51, -0.2), (1.89, -0.7), (1.27, -1.2), (1.74, -1.7), (1.21, -2.2), (1.64, 2.8), (1.96, 3.3), (1.41, 5.3), (1.79, -5.0), (1.14, -3.1), (1.71, 5.6),
    (2.4, 7.9), (2.42, 7.3), (2.0, 5.8), (2.1, 5.95), (2.6, -3.8), (2.88, 5.0), (2.51, 4.5), (2.13, 4.0), (2.72, 3.5), (2.29, 3.0), (2.83, 2.5), (2.38, 2.0), (2.04, 1.5), (2.63, 1.0), (2.18, 0.5), (2.92, 0.0), (2.47, -0.5), (2.09, -1.0), (2.71, -1.5), (2.33, -2.0), (2.81, -2.5), (2.43, -3.0), (2.21, -4.6), (2.64, 3.8), (2.23, 3.3), (2.93, 2.8), (2.53, 2.3), (2.14, 1.8), (2.69, 1.3), (2.31, 0.8), (2.84, 0.3), (2.39, -0.2), (2.02, -0.7), (2.58, -1.2), (2.19, -1.7), (2.94, -2.0),
    (3.8, 7.3), (3.11, 6.6), (3.53, 6.1), (3.89, 5.6), (3.29, 5.1), (3.71, 4.6), (3.18, 4.1), (3.62, 3.6), (3.98, 3.1), (3.37, 2.6), (3.83, 2.1), (3.07, 1.6), (3.48, 1.1), (3.92, 0.6), (3.31, 0.1), (3.68, -0.4), (3.22, -0.9), (3.59, -1.4), (3.97, -1.9), (3.42, -2.4), (3.81, -3.0), (3.17, -3.7), (3.63, 4.9), (3.03, 4.4), (3.44, 3.9), (3.91, 3.4), (3.27, 2.9), (3.74, 2.4), (3.13, 1.9), (3.51, 1.4), (3.87, 0.9), (3.33, -1.1), (3.72, -2.0), (3.08, -0.3),
    (4.3, -3.5), (4.1, 8.2), (4.48, 7.5), (4.91, 7.0), (4.28, 6.5), (4.72, 6.0), (4.17, 5.5), (4.63, 5.0), (4.97, 4.5), (4.39, 4.0), (4.82, 3.5), (4.06, 3.0), (4.53, 2.5), (4.88, 2.0), (4.32, 1.5), (4.69, 1.0), (4.21, 0.5), (4.58, 0.0), (4.99, -0.5), (4.42, -1.0), (4.79, -1.6), (4.12, -2.2), (4.51, -2.9), (4.93, 5.3), (4.27, 4.8), (4.74, 4.3), (4.19, 3.8), (4.61, 3.3), (4.96, 2.8), (4.37, 2.3), (4.84, 1.8), (4.08, 1.3), (4.54, -0.3), (4.92, -1.9),
    (5.8, 8.4), (5.4, -2.7), (5.12, 7.8), (5.49, 7.3), (5.91, 6.8), (5.28, 6.3), (5.72, 5.8), (5.18, 5.3), (5.63, 4.8), (5.98, 4.3), (5.38, 3.8), (5.82, 3.3), (5.07, 2.8), (5.52, 2.3), (5.89, 1.8), (5.31, 1.3), (5.69, 0.8), (5.21, 0.3), (5.58, -0.2), (5.97, -0.8), (5.43, -1.5), (5.84, -2.2), (5.23, 6.6), (5.61, 6.1), (5.03, 5.6), (5.42, 5.1), (5.93, 4.6), (5.33, 4.1), (5.74, 3.6), (5.13, 3.1), (5.47, 1.6), (5.87, 0.3),
    (6.2, 9.2), (6.1, -2.8), (6.52, 8.6), (6.89, 8.0), (6.31, 7.5), (6.71, 7.0), (6.18, 6.5), (6.63, 6.0), (6.97, 5.5), (6.38, 5.0), (6.82, 4.5), (6.08, 4.0), (6.49, 3.5), (6.92, 3.0), (6.27, 2.5), (6.73, 2.0), (6.22, 1.5), (6.59, 1.0), (6.98, 0.4), (6.43, -0.2), (6.81, -0.9), (6.14, -1.6), (6.53, 7.8), (6.91, 7.3), (6.33, 6.8), (6.68, 6.3), (6.03, 5.8), (6.41, 5.3), (6.84, 4.8), (6.24, 4.3), (6.62, 3.8), (6.99, 2.3),
    (7.65, 10.8), (7.7, 10.1), (7.3, -2.2), (7.11, 9.5), (7.52, 8.9), (7.88, 8.4), (7.29, 7.9), (7.73, 7.4), (7.18, 6.9), (7.62, 6.4), (7.98, 5.9), (7.37, 5.4), (7.83, 4.9), (7.08, 4.4), (7.49, 3.9), (7.91, 3.4), (7.32, 2.8), (7.69, 2.2), (7.21, 1.6), (7.58, 0.9), (7.97, 0.2), (7.42, -0.6), (7.81, -1.4), (7.23, 8.2), (7.61, 7.7), (7.04, 7.2), (7.43, 6.7), (7.92, 6.2), (7.34, 5.7), (7.74, 5.2), (7.13, 4.7),
    (8.1, 0.5), (8.3, 0.0), (8.6, 0.6), (8.9, 0.2), (8.52, 9.8), (8.91, 9.3), (8.28, 8.8), (8.73, 8.3), (8.19, 7.8), (8.62, 7.3), (8.98, 6.8), (8.37, 6.3), (8.83, 5.8), (8.08, 5.3), (8.49, 4.8), (8.92, 4.3), (8.31, 3.8), (8.71, 3.2), (8.22, 2.6), (8.58, 1.9), (8.42, -0.8), (8.81, 9.9), (8.17, 8.6), (8.63, 8.1), (8.03, 7.6), (8.44, 7.1), (8.87, 6.6), (8.33, 6.1), (8.69, 5.6),
    (9.0, 10.9), (9.6, 1.95), (9.4, 1.6), (9.6, 0.0), (9.9, 1.1), (9.1, 0.4), (9.52, 9.9), (9.91, 9.4), (9.28, 8.9), (9.73, 8.4), (9.18, 7.9), (9.62, 7.4), (9.98, 6.9), (9.37, 6.4), (9.83, 5.9), (9.08, 5.4), (9.49, 4.9), (9.92, 4.3), (9.31, 3.7), (9.71, 3.0), (9.22, 2.5), (9.63, 8.7), (9.04, 8.2), (9.43, 7.7), (9.81, 7.2), (9.24, 6.2), (9.69, 5.3),
    (10.1, 10.5), (10.3, 1.0), (10.4, 0.8), (10.6, 0.5), (10.8, 2.5), (10.5, 3.2), (10.45, 3.35), (10.22, 9.9), (10.61, 9.4), (10.93, 8.8), (10.33, 8.3), (10.72, 7.7), (10.18, 7.2), (10.57, 6.6), (10.98, 6.0), (10.41, 5.4), (10.83, 4.8), (10.07, 4.2), (10.52, 8.0), (10.89, 7.1), (10.28, 6.2), (10.69, 5.6),
    (11.3, 10.5), (11.25, 2.05), (11.25, 0.5), (11.0, 4.0), (11.7, 4.8), (11.72, 5.2), (11.25, 4.6), (11.4, 1.6), (11.6, 1.5), (11.55, 0.9), (11.21, 9.7), (11.63, 9.1), (11.92, 8.4), (11.34, 7.8), (11.71, 7.1), (11.43, 6.4), (11.82, 5.8), (11.52, 8.6), (11.12, 7.0), (12.0, 10.0),
    (12.4, 10.0), (12.8, 10.3), (12.35, 2.05), (12.4, 1.3), (12.35, 0.5), (13.0, 0.85), (12.22, 9.2), (12.61, 8.5), (12.13, 7.8), (12.53, 7.1), (12.91, 6.5), (12.32, 5.8), (12.74, 9.5), (12.63, 4.9), (12.04, 6.2),
    (13.2, 2.4), (13.45, 1.4), (13.8, 0.5), (13.4, 4.7), (13.8, 5.0), (13.78, 5.5), (13.5, 6.3), (13.3, 10.3), (13.32, 9.6), (13.28, 8.9), (13.6, 7.8), (13.1, 7.1), (13.9, 9.2),
    (14.2, 4.9), (14.5, 5.7), (15.35, 8.0), (16.25, 9.1), (14.3, 9.9), (14.6, 8.3), (14.1, 7.5),
]

# more points from the dense band of panel (b)
lw_core = [
    (-7.96, -0.6), (-7.55, -1.0), (-7.16, -1.4), (-7.77, -1.8), (-7.35, -2.2), (-7.87, -2.7), (-7.45, -3.1), (-7.05, -3.5), (-7.66, -3.9), (-7.25, -4.3), (-7.92, -4.8), (-7.52, -5.2), (-7.11, -5.6), (-7.72, -6.0), (-7.31, -6.5), (-7.83, -6.9), (-7.42, -7.4), (-7.2, -2.4), (-7.61, -4.6),
    (-6.55, 0.0), (-6.12, -0.4), (-6.86, -0.8), (-6.27, -1.3), (-6.68, -1.7), (-6.04, -2.1), (-6.95, -2.5), (-6.45, -3.0), (-6.76, -3.4), (-6.16, -3.8), (-6.37, -4.2), (-6.89, -4.7), (-6.23, -5.1), (-6.58, -5.5), (-6.97, -5.9), (-6.07, -6.4), (-6.65, -6.8), (-6.33, -1.9), (-6.79, -3.7), (-6.48, -4.5),
    (-5.96, 0.8), (-5.55, 0.4), (-5.16, 0.0), (-5.77, -0.4), (-5.35, -0.8), (-5.87, -1.3), (-5.45, -1.7), (-5.05, -2.1), (-5.66, -2.6), (-5.25, -3.0), (-5.92, -3.4), (-5.52, -3.9), (-5.11, -4.3), (-5.72, -4.8), (-5.31, -5.2), (-5.83, -5.6), (-5.42, -6.1), (-5.02, -6.5), (-5.6, -1.1), (-5.21, -3.6),
    (-4.55, 1.2), (-4.12, 0.8), (-4.86, 0.4), (-4.27, 0.0), (-4.68, -0.4), (-4.04, -0.9), (-4.95, -1.3), (-4.45, -1.7), (-4.76, -2.2), (-4.16, -2.6), (-4.37, -3.0), (-4.89, -3.5), (-4.23, -3.9), (-4.58, -4.3), (-4.97, -4.8), (-4.07, -5.2), (-4.65, -5.6), (-4.33, -6.0), (-4.79, -1.9), (-4.48, -3.7),
    (-3.96, 1.8), (-3.55, 1.4), (-3.16, 1.0), (-3.77, 0.6), (-3.35, 0.2), (-3.87, -0.3), (-3.45, -0.7), (-3.05, -1.1), (-3.66, -1.6), (-3.25, -2.0), (-3.92, -2.4), (-3.52, -2.9), (-3.11, -3.3), (-3.72, -3.7), (-3.31, -4.2), (-3.83, -4.6), (-3.42, -5.1), (-3.02, -5.5), (-3.6, -0.5), (-3.21, -2.6),
    (-2.55, 2.3), (-2.12, 1.9), (-2.86, 1.5), (-2.27, 1.1), (-2.68, 0.7), (-2.04, 0.2), (-2.95, -0.2), (-2.45, -0.6), (-2.76, -1.1), (-2.16, -1.5), (-2.37, -1.9), (-2.89, -2.4), (-2.23, -2.8), (-2.58, -3.2), (-2.97, -3.7), (-2.07, -4.1), (-2.65, -4.5), (-2.33, -5.0), (-2.79, -0.9), (-2.48, -3.0),
    (-1.96, 2.9), (-1.55, 2.5), (-1.16, 2.0), (-1.77, 1.6), (-1.35, 1.2), (-1.87, 0.8), (-1.45, 0.3), (-1.05, -0.1), (-1.66, -0.5), (-1.25, -1.0), (-1.92, -1.4), (-1.52, -1.8), (-1.11, -2.3), (-1.72, -2.7), (-1.31, -3.1), (-1.83, -3.6), (-1.42, -4.0), (-1.02, -4.4), (-1.6, 0.5), (-1.21, -1.6),
    (-0.55, 3.4), (-0.12, 3.0), (-0.86, 2.5), (-0.27, 2.1), (-0.68, 1.7), (-0.04, 1.3), (-0.95, 0.8), (-0.45, 0.4), (-0.76, 0.0), (-0.16, -0.5), (-0.37, -0.9), (-0.89, -1.3), (-0.23, -1.8), (-0.58, -2.2), (-0.97, -2.6), (-0.07, -3.1), (-0.65, -3.5), (-0.33, -4.0), (-0.79, 1.0), (-0.48, -1.1),
    (0.04, 3.9), (0.45, 3.5), (0.84, 3.0), (0.23, 2.6), (0.65, 2.2), (0.13, 1.7), (0.55, 1.3), (0.95, 0.9), (0.34, 0.4), (0.75, 0.0), (0.08, -0.4), (0.48, -0.9), (0.89, -1.3), (0.28, -1.7), (0.69, -2.2), (0.17, -2.6), (0.58, -3.0), (0.97, -3.5), (0.4, 1.5), (0.79, -0.6),
    (1.55, 4.5), (1.12, 4.0), (1.86, 3.6), (1.27, 3.2), (1.68, 2.7), (1.04, 2.3), (1.95, 1.9), (1.45, 1.4), (1.76, 1.0), (1.16, 0.6), (1.37, 0.1), (1.89, -0.3), (1.23, -0.7), (1.58, -1.2), (1.97, -1.6), (1.07, -2.0), (1.65, -2.5), (1.33, -2.9), (1.79, 2.0), (1.48, -0.1),
    (2.04, 5.0), (2.45, 4.6), (2.84, 4.1), (2.23, 3.7), (2.65, 3.2), (2.13, 2.8), (2.55, 2.4), (2.95, 1.9), (2.34, 1.5), (2.75, 1.1), (2.08, 0.6), (2.48, 0.2), (2.89, -0.2), (2.28, -0.7), (2.69, -1.1), (2.17, -1.6), (2.58, -2.0), (2.97, -2.4), (2.4, 2.6), (2.79, 0.4),
    (3.55, 5.6), (3.12, 5.2), (3.86, 4.7), (3.27, 4.3), (3.68, 3.8), (3.04, 3.4), (3.95, 3.0), (3.45, 2.5), (3.76, 2.1), (3.16, 1.7), (3.37, 1.2), (3.89, 0.8), (3.23, 0.3), (3.58, -0.1), (3.97, -0.6), (3.07, -1.0), (3.65, -1.5), (3.33, -2.0), (3.79, 3.2), (3.48, 0.9),
    (4.04, 6.4), (4.45, 5.9), (4.84, 5.4), (4.23, 5.0), (4.65, 4.5), (4.13, 4.0), (4.55, 3.6), (4.95, 3.1), (4.34, 2.6), (4.75, 2.2), (4.08, 1.7), (4.48, 1.2), (4.89, 0.8), (4.28, 0.3), (4.69, -0.2), (4.17, -0.7), (4.58, -1.2), (4.97, 4.2), (4.4, 2.0), (4.79, 0.1),
    (5.55, 7.2), (5.12, 6.7), (5.86, 6.2), (5.27, 5.7), (5.68, 5.2), (5.04, 4.7), (5.95, 4.2), (5.45, 3.7), (5.76, 3.2), (5.16, 2.7), (5.37, 2.2), (5.89, 1.7), (5.23, 1.2), (5.58, 0.7), (5.97, 0.1), (5.07, -0.4), (5.65, 4.5), (5.33, 5.4), (5.79, 2.9), (5.48, 6.0),
    (6.04, 8.0), (6.45, 7.5), (6.84, 7.0), (6.23, 6.5), (6.65, 6.0), (6.13, 5.5), (6.55, 5.0), (6.95, 4.5), (6.34, 4.0), (6.75, 3.5), (6.08, 3.0), (6.48, 2.5), (6.89, 2.0), (6.28, 1.4), (6.69, 0.8), (6.17, 0.2), (6.58, 6.8), (6.97, 5.9), (6.4, 3.8), (6.79, 4.7),
    (7.55, 8.8), (7.12, 8.3), (7.86, 7.8), (7.27, 7.3), (7.68, 6.8), (7.04, 6.3), (7.95, 5.8), (7.45, 5.3), (7.76, 4.8), (7.16, 4.3), (7.37, 3.8), (7.89, 3.2), (7.23, 2.6), (7.58, 2.0), (7.97, 1.4), (7.07, 0.8), (7.65, 7.1), (7.33, 6.0), (7.79, 4.1), (7.48, 8.1),
    (8.04, 9.4), (8.45, 8.9), (8.84, 8.4), (8.23, 7.9), (8.65, 7.4), (8.13, 6.9), (8.55, 6.4), (8.95, 5.9), (8.34, 5.4), (8.75, 4.9), (8.08, 4.4), (8.48, 3.8), (8.89, 3.2), (8.28, 2.6), (8.69, 2.0), (8.4, 8.1), (8.79, 6.1), (8.18, 5.0),
    (9.55, 9.6), (9.12, 9.1), (9.86, 8.6), (9.27, 8.1), (9.68, 7.6), (9.04, 7.1), (9.95, 6.6), (9.45, 6.1), (9.76, 5.6), (9.16, 5.1), (9.37, 4.5), (9.89, 3.9), (9.23, 3.3), (9.58, 8.9), (9.33, 6.8), (9.79, 7.3),
    (10.04, 9.8), (10.45, 9.2), (10.84, 8.6), (10.23, 8.0), (10.65, 7.4), (10.13, 6.8), (10.55, 6.2), (10.95, 5.6), (10.34, 5.0), (10.75, 4.4), (10.4, 7.6), (10.79, 9.0),
]

# the most crowded part of panel (b)
lw_dense = [
    (-7.72, -1.9), (-7.31, -2.2), (-7.88, -2.5), (-7.47, -2.9), (-7.06, -3.2), (-7.79, -3.5), (-7.38, -3.9), (-7.02, -4.2), (-7.61, -4.5), (-7.19, -4.9), (-7.84, -5.2), (-7.43, -5.5), (-7.25, -5.9), (-7.66, -6.2),
    (-6.31, -1.3), (-6.88, -1.6), (-6.47, -2.0), (-6.06, -2.3), (-6.79, -2.6), (-6.38, -3.0), (-6.02, -3.3), (-6.61, -3.6), (-6.19, -4.0), (-6.84, -4.3), (-6.43, -4.6), (-6.25, -5.0), (-6.66, -5.3), (-6.72, -5.7),
    (-5.72, -0.7), (-5.31, -1.0), (-5.88, -1.4), (-5.47, -1.7), (-5.06, -2.0), (-5.79, -2.4), (-5.38, -2.7), (-5.02, -3.0), (-5.61, -3.4), (-5.19, -3.7), (-5.84, -4.0), (-5.43, -4.4), (-5.25, -4.7), (-5.66, -5.1),
    (-4.31, -0.1), (-4.88, -0.4), (-4.47, -0.8), (-4.06, -1.1), (-4.79, -1.4), (-4.38, -1.8), (-4.02, -2.1), (-4.61, -2.4), (-4.19, -2.8), (-4.84, -3.1), (-4.43, -3.4), (-4.25, -3.8), (-4.66, -4.1), (-4.72, -4.5),
    (-3.72, 0.4), (-3.31, 0.1), (-3.88, -0.3), (-3.47, -0.6), (-3.06, -0.9), (-3.79, -1.3), (-3.38, -1.6), (-3.02, -1.9), (-3.61, -2.3), (-3.19, -2.6), (-3.84, -2.9), (-3.43, -3.3), (-3.25, -3.6), (-3.66, -4.0),
    (-2.31, 1.0), (-2.88, 0.6), (-2.47, 0.3), (-2.06, 0.0), (-2.79, -0.4), (-2.38, -0.7), (-2.02, -1.0), (-2.61, -1.4), (-2.19, -1.7), (-2.84, -2.0), (-2.43, -2.4), (-2.25, -2.7), (-2.66, -3.0), (-2.72, -3.4),
    (-1.72, 1.5), (-1.31, 1.2), (-1.88, 0.8), (-1.47, 0.5), (-1.06, 0.2), (-1.79, -0.2), (-1.38, -0.5), (-1.02, -0.8), (-1.61, -1.2), (-1.19, -1.5), (-1.84, -1.8), (-1.43, -2.2), (-1.25, -2.5), (-1.66, -2.9),
    (-0.31, 2.0), (-0.88, 1.7), (-0.47, 1.4), (-0.06, 1.0), (-0.79, 0.7), (-0.38, 0.4), (-0.02, 0.0), (-0.61, -0.3), (-0.19, -0.6), (-0.84, -1.0), (-0.43, -1.3), (-0.25, -1.6), (-0.66, -2.0), (-0.72, -2.3),
    (0.28, 2.6), (0.69, 2.3), (0.12, 1.9), (0.53, 1.6), (0.94, 1.3), (0.21, 0.9), (0.62, 0.6), (0.98, 0.3), (0.39, -0.1), (0.81, -0.4), (0.16, -0.7), (0.57, -1.1), (0.75, -1.4), (0.34, -1.8),
    (1.69, 3.1), (1.28, 2.8), (1.94, 2.4), (1.53, 2.1), (1.12, 1.8), (1.81, 1.4), (1.39, 1.1), (1.02, 0.8), (1.62, 0.4), (1.21, 0.1), (1.88, -0.2), (1.47, -0.6), (1.16, -0.9), (1.75, -1.3),
    (2.28, 3.7), (2.69, 3.3), (2.12, 3.0), (2.53, 2.7), (2.94, 2.3), (2.21, 2.0), (2.62, 1.7), (2.98, 1.3), (2.39, 1.0), (2.81, 0.7), (2.16, 0.3), (2.57, 0.0), (2.75, -0.3), (2.34, -0.7),
    (3.69, 4.3), (3.28, 3.9), (3.94, 3.6), (3.53, 3.3), (3.12, 2.9), (3.81, 2.6), (3.39, 2.3), (3.02, 1.9), (3.62, 1.6), (3.21, 1.3), (3.88, 0.9), (3.47, 0.6), (3.16, 0.3), (3.75, -0.1),
    (4.28, 5.2), (4.69, 4.8), (4.12, 4.4), (4.53, 4.0), (4.94, 3.6), (4.21, 3.2), (4.62, 2.8), (4.98, 2.4), (4.39, 2.0), (4.81, 1.6), (4.16, 1.2), (4.57, 0.8), (4.75, 0.4),
    (5.69, 6.0), (5.28, 5.6), (5.94, 5.2), (5.53, 4.7), (5.12, 4.3), (5.81, 3.9), (5.39, 3.5), (5.02, 3.0), (5.62, 2.6), (5.21, 2.2), (5.88, 1.8), (5.47, 1.3), (5.16, 0.9),
    (6.28, 7.0), (6.69, 6.5), (6.12, 6.0), (6.53, 5.6), (6.94, 5.1), (6.21, 4.7), (6.62, 4.2), (6.98, 3.8), (6.39, 3.3), (6.81, 2.9), (6.16, 2.4), (6.57, 2.0), (6.75, 1.5),
    (7.69, 7.9), (7.28, 7.4), (7.94, 6.9), (7.53, 6.4), (7.12, 6.0), (7.81, 5.5), (7.39, 5.0), (7.02, 4.5), (7.62, 4.1), (7.21, 3.6), (7.88, 3.1), (7.47, 2.6),
    (8.28, 8.6), (8.69, 8.1), (8.12, 7.6), (8.53, 7.1), (8.94, 6.6), (8.21, 6.1), (8.62, 5.6), (8.98, 5.1), (8.39, 4.6), (8.81, 4.1), (8.16, 3.6),
    (9.69, 9.2), (9.28, 8.7), (9.94, 8.2), (9.53, 7.7), (9.12, 7.2), (9.81, 6.7), (9.39, 6.2), (9.02, 5.7), (9.62, 5.2), (9.21, 4.7),
]

# second pass over the most crowded part of panel (b)
lw_dense2 = [
    (-7.47, -2.05), (-7.93, -2.35), (-7.15, -2.7), (-7.71, -3.05), (-7.36, -3.35), (-7.82, -3.7), (-7.04, -4.05), (-7.58, -4.35), (-7.27, -4.7), (-7.66, -5.05), (-7.11, -5.35), (-7.89, -5.7), (-7.42, -6.05), (-7.77, -6.4),
    (-6.47, -1.45), (-6.93, -1.8), (-6.15, -2.15), (-6.71, -2.45), (-6.36, -2.8), (-6.82, -3.15), (-6.04, -3.45), (-6.58, -3.8), (-6.27, -4.15), (-6.66, -4.45), (-6.11, -4.8), (-6.89, -5.15), (-6.42, -5.5), (-6.77, -5.85),
    (-5.47, -0.85), (-5.93, -1.2), (-5.15, -1.55), (-5.71, -1.85), (-5.36, -2.2), (-5.82, -2.55), (-5.04, -2.85), (-5.58, -3.2), (-5.27, -3.55), (-5.66, -3.85), (-5.11, -4.2), (-5.89, -4.55), (-5.42, -4.9), (-5.77, -5.25),
    (-4.47, -0.25), (-4.93, -0.6), (-4.15, -0.95), (-4.71, -1.25), (-4.36, -1.6), (-4.82, -1.95), (-4.04, -2.25), (-4.58, -2.6), (-4.27, -2.95), (-4.66, -3.25), (-4.11, -3.6), (-4.89, -3.95), (-4.42, -4.3), (-4.77, -4.65),
    (-3.47, 0.25), (-3.93, -0.1), (-3.15, -0.45), (-3.71, -0.75), (-3.36, -1.1), (-3.82, -1.45), (-3.04, -1.75), (-3.58, -2.1), (-3.27, -2.45), (-3.66, -2.75), (-3.11, -3.1), (-3.89, -3.45), (-3.42, -3.8), (-3.77, -4.15),
    (-2.47, 0.8), (-2.93, 0.45), (-2.15, 0.15), (-2.71, -0.2), (-2.36, -0.55), (-2.82, -0.85), (-2.04, -1.2), (-2.58, -1.55), (-2.27, -1.85), (-2.66, -2.2), (-2.11, -2.55), (-2.89, -2.85), (-2.42, -3.2), (-2.77, -3.55),
    (-1.47, 1.35), (-1.93, 1.0), (-1.15, 0.65), (-1.71, 0.35), (-1.36, 0.0), (-1.82, -0.35), (-1.04, -0.65), (-1.58, -1.0), (-1.27, -1.35), (-1.66, -1.65), (-1.11, -2.0), (-1.89, -2.35), (-1.42, -2.7), (-1.77, -3.05),
    (-0.47, 1.85), (-0.93, 1.55), (-0.15, 1.2), (-0.71, 0.85), (-0.36, 0.55), (-0.82, 0.2), (-0.04, -0.15), (-0.58, -0.45), (-0.27, -0.8), (-0.66, -1.15), (-0.11, -1.45), (-0.89, -1.8), (-0.42, -2.15), (-0.77, -2.5),
    (0.47, 2.45), (0.93, 2.1), (0.15, 1.75), (0.71, 1.45), (0.36, 1.1), (0.82, 0.75), (0.04, 0.45), (0.58, 0.1), (0.27, -0.25), (0.66, -0.55), (0.11, -0.9), (0.89, -1.25), (0.42, -1.6), (0.77, -1.95),
    (1.47, 2.95), (1.93, 2.6), (1.15, 2.25), (1.71, 1.95), (1.36, 1.6), (1.82, 1.25), (1.04, 0.95), (1.58, 0.6), (1.27, 0.25), (1.66, -0.05), (1.11, -0.4), (1.89, -0.75), (1.42, -1.1), (1.77, -1.45),
    (2.47, 3.5), (2.93, 3.15), (2.15, 2.85), (2.71, 2.5), (2.36, 2.15), (2.82, 1.85), (2.04, 1.5), (2.58, 1.15), (2.27, 0.85), (2.66, 0.5), (2.11, 0.15), (2.89, -0.15), (2.42, -0.5), (2.77, -0.85),
    (3.47, 4.1), (3.93, 3.75), (3.15, 3.45), (3.71, 3.1), (3.36, 2.75), (3.82, 2.45), (3.04, 2.1), (3.58, 1.75), (3.27, 1.45), (3.66, 1.1), (3.11, 0.75), (3.89, 0.45), (3.42, 0.1),
    (4.47, 5.0), (4.93, 4.6), (4.15, 4.2), (4.71, 3.8), (4.36, 3.4), (4.82, 3.0), (4.04, 2.6), (4.58, 2.2), (4.27, 1.8), (4.66, 1.4), (4.11, 1.0), (4.89, 0.6),
    (5.47, 5.8), (5.93, 5.4), (5.15, 4.95), (5.71, 4.5), (5.36, 4.1), (5.82, 3.7), (5.04, 3.25), (5.58, 2.8), (5.27, 2.4), (5.66, 2.0), (5.11, 1.55), (5.89, 1.1),
    (6.47, 6.75), (6.93, 6.25), (6.15, 5.8), (6.71, 5.35), (6.36, 4.9), (6.82, 4.45), (6.04, 4.0), (6.58, 3.55), (6.27, 3.1), (6.66, 2.65), (6.11, 2.2), (6.89, 1.75),
    (7.47, 7.65), (7.93, 7.15), (7.15, 6.65), (7.71, 6.2), (7.36, 5.75), (7.82, 5.25), (7.04, 4.75), (7.58, 4.3), (7.27, 3.85), (7.66, 3.35), (7.11, 2.85),
    (8.47, 8.35), (8.93, 7.85), (8.15, 7.35), (8.71, 6.85), (8.36, 6.35), (8.82, 5.85), (8.04, 5.35), (8.58, 4.85), (8.27, 4.35), (8.66, 3.85),
    (9.47, 8.95), (9.93, 8.45), (9.15, 7.95), (9.71, 7.45), (9.36, 6.95), (9.82, 6.45), (9.04, 5.95), (9.58, 5.45), (9.27, 4.95),
]

# fringe of the band in panel (b): left shoulder and upper right
lw_edge = [
    (-8.55, -2.35), (-8.15, -3.55), (-8.75, -4.45), (-8.35, -5.6), (-8.92, -6.4), (-8.05, -7.05), (-8.62, -3.85), (-8.27, -4.95), (-8.83, -2.05), (-8.42, -6.85), (-8.12, -0.85), (-8.68, -5.35),
    (-9.45, -3.15), (-9.12, -4.05), (-9.78, -5.05), (-9.33, -6.15), (-9.64, -2.05), (-9.07, -7.5), (-9.52, -5.55), (-9.86, -3.45),
    (-10.35, -4.05), (-10.62, -5.0), (-10.15, -6.8), (-10.85, -6.05), (-10.44, -3.25), (-10.72, -7.85),
    (-11.35, -6.55), (-11.62, -4.55), (-11.15, -5.35),
    (8.15, 9.05), (8.55, 8.55), (8.95, 7.55), (9.25, 9.55), (9.65, 8.15), (10.05, 7.65), (10.35, 9.35), (10.75, 8.25),
    (10.15, 5.85), (9.45, 7.05), (8.85, 6.15), (10.55, 5.05), (11.05, 8.05), (11.45, 9.35), (11.15, 6.05), (11.65, 6.85),
]

# regression fits and the JJA 2019 value, as given in the figure
sw_fit = (-1.19, -0.1)
lw_fit = (0.54, 0.05)
sw_r, lw_r = -0.59, 0.81
jja2019_lcf = -9.6
jja2019_sw = 11.3
jja2019_lw = -5.3

lcf_a, sw = np.array(sw_points + sw_core + sw_dense + sw_dense2 + sw_edge).T
lcf_b, lw = np.array(lw_points + lw_core + lw_dense + lw_dense2 + lw_edge).T

fig = plt.figure(figsize=(7.09, 9.59), dpi=100)
ax1 = fig.add_axes([0.1213, 0.5652, 0.862, 0.3806])
ax2 = fig.add_axes([0.1213, 0.0699, 0.862, 0.3806])

gray = '#808080'
panels = [
    (ax1, lcf_a, sw, sw_fit, jja2019_sw, sw_r, 'Net SW Anomaly (W m$^{-2}$)', (-40, 40), [-40, -20, 0, 20, 40]),
    (ax2, lcf_b, lw, lw_fit, jja2019_lw, lw_r, 'Net LW Anomaly (W m$^{-2}$)', (-12, 12), [-12, -6, 0, 6, 12]),
]

for ax, x, y, fit, red_y, r, ylab, ylim, yticks in panels:
    ax.scatter(x, y, s=16, color=gray, edgecolors='none', zorder=2)
    xl = np.array([x.min(), x.max()])
    line, = ax.plot(xl, fit[0] * xl + fit[1], color='black', lw=1.9, zorder=3,
                    label='Linear Regression')
    dot, = ax.plot([jja2019_lcf], [red_y], 'o', color='red', ms=12.5, mec='none',
                   zorder=4, label='JJA 2019')
    ax.set_xlim(-20, 20)
    ax.set_ylim(*ylim)
    ax.set_xticks([-20, -10, 0, 10, 20])
    ax.set_yticks(yticks)
    ax.tick_params(direction='in', top=True, right=True, length=6, width=0.8,
                   color='#262626', labelsize=14, labelcolor='#262626', pad=6)
    for s in ax.spines.values():
        s.set_color('#6e6e6e')
        s.set_linewidth(0.8)
    ax.set_xlabel('Low-Cloud Fraction Anomaly (%)', fontsize=16, color='#262626', labelpad=4)
    ax.set_ylabel(ylab, fontsize=16, color='#262626', labelpad=4)

ax1.text(-17.95, -27.5, 'R = %.2f' % sw_r, fontsize=12.5, va='center', ha='left')
ax1.text(-17.95, -32.0, 'Reg. Coeff. = %.2f Wm$^{-2}$%%$^{-1}$' % sw_fit[0], fontsize=12.5,
         va='center', ha='left')
ax2.text(-17.95, 9.85, 'R = %.2f' % lw_r, fontsize=12.5, va='center', ha='left')
ax2.text(-17.95, 8.4, 'Reg. Coeff. = %.2f Wm$^{-2}$%%$^{-1}$' % lw_fit[0], fontsize=12.5,
         va='center', ha='left')

leg = ax2.legend(handles=[line, dot], loc='lower right', fontsize=12.5, frameon=True,
                 fancybox=False, borderaxespad=0.7, handlelength=2.1, borderpad=0.4,
                 labelspacing=0.3, handletextpad=0.5)
leg.get_frame().set_edgecolor('#262626')
leg.get_frame().set_linewidth(0.8)

fig.text(0.037, 0.981, '(a)', fontsize=15, va='center', ha='left')
fig.text(0.037, 0.486, '(b)', fontsize=15, va='center', ha='left')

fig.savefig('out.png', dpi=100)
